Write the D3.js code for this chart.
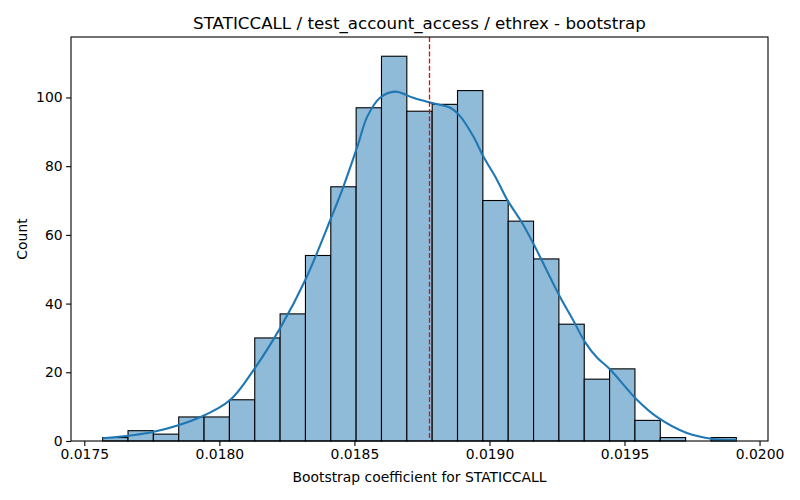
<!DOCTYPE html>
<html>
<head>
<meta charset="utf-8">
<script src="https://cdn.jsdelivr.net/npm/d3@7"></script>
<style>
  body { margin: 0; background: #fff; }
  text { font-family: "DejaVu Sans", sans-serif; fill: #000; }
</style>
</head>
<body>
<div id="chart"></div>
<script>
// Histogram counts, left to right (25 bins)
var counts = [1, 3, 2, 7, 7, 12, 30, 37, 54, 74, 97, 112, 96, 98, 102, 70, 64, 53, 34, 18, 21, 6, 1, 0, 1];
// Range covered by the bins
var binRange = [0.017568, 0.019914];
// KDE curve (x value, count scale)
var kdeX = [0.017568, 0.017757, 0.017931, 0.018041, 0.018127, 0.018226, 0.018319, 0.018411, 0.018459,
            0.018511, 0.018548, 0.018596, 0.018651, 0.018718, 0.018781, 0.018855, 0.018892, 0.018940,
            0.018977, 0.019028, 0.019065, 0.019120, 0.019161, 0.019198, 0.019261, 0.019309, 0.019354,
            0.019398, 0.019446, 0.019546, 0.019620, 0.019731, 0.019827, 0.019915];
var kdeY = [0.8, 2.7, 7, 12, 20.7, 33, 47, 64.4, 74,
            85.7, 94.5, 100, 101.7, 99.9, 98.5, 97, 94.5, 88.7,
            82.9, 76, 70.3, 63.6, 57.7, 51.9, 42, 35.3, 28.8,
            24.3, 20.9, 12, 7, 2.3, 0.6, 0.3];
// Mean marker
var meanValue = 0.018778;
var xTicks = [0.0175, 0.0180, 0.0185, 0.0190, 0.0195, 0.0200];
var yTicks = [0, 20, 40, 60, 80, 100];
var title = "STATICCALL / test_account_access / ethrex - bootstrap";
var xLabel = "Bootstrap coefficient for STATICCALL";
var yLabel = "Count";

function init() {
    var w = 800, h = 500;
    var left = 71, right = 768, top = 37, bottom = 441;

    var svg = d3.select("#chart").append("svg")
        .attr("width", w).attr("height", h);

    // Matplotlib style 5% margins
    var span = binRange[1] - binRange[0];
    var xScale = d3.scaleLinear()
        .domain([binRange[0] - span * 0.05, binRange[1] + span * 0.05])
        .range([left, right]);
    var yScale = d3.scaleLinear()
        .domain([0, d3.max(counts) * 1.05])
        .range([bottom, top]);

    var bw = span / counts.length;
    var bins = counts.map(function(c, i) {
        return { x0: binRange[0] + i * bw, x1: binRange[0] + (i + 1) * bw, n: c };
    });

    // Bars
    svg.append("g").selectAll("rect")
        .data(bins.filter(function(d) { return d.n > 0; }))
        .enter().append("rect")
        .attr("x", function(d) { return xScale(d.x0); })
        .attr("y", function(d) { return yScale(d.n); })
        .attr("width", function(d) { return xScale(d.x1) - xScale(d.x0); })
        .attr("height", function(d) { return yScale(0) - yScale(d.n); })
        .attr("fill", "#8fbbd9")
        .attr("stroke", "#000")
        .attr("stroke-width", 1.1);

    // KDE line
    var kde = kdeX.map(function(x, i) { return [x, kdeY[i]]; });
    var line = d3.line()
        .x(function(d) { return xScale(d[0]); })
        .y(function(d) { return yScale(d[1]); })
        .curve(d3.curveCatmullRom.alpha(0.5));
    svg.append("path")
        .datum(kde)
        .attr("d", line)
        .attr("fill", "none")
        .attr("stroke", "#1f77b4")
        .attr("stroke-width", 2.1);

    // Mean line
    svg.append("line")
        .attr("x1", xScale(meanValue)).attr("x2", xScale(meanValue))
        .attr("y1", top).attr("y2", bottom)
        .attr("stroke", "#ff0000")
        .attr("stroke-width", 1.3)
        .attr("stroke-dasharray", "5,2.2");

    // Axes
    var xAxis = d3.axisBottom(xScale)
        .tickValues(xTicks)
        .tickFormat(d3.format(".4f"))
        .tickSize(4.9).tickPadding(3.5);
    var yAxis = d3.axisLeft(yScale)
        .tickValues(yTicks)
        .tickSize(4.9).tickPadding(3.5);

    var gx = svg.append("g")
        .attr("transform", "translate(0," + bottom + ")")
        .call(xAxis);
    var gy = svg.append("g")
        .attr("transform", "translate(" + left + ",0)")
        .call(yAxis);
    [gx, gy].forEach(function(g) {
        g.select(".domain").remove();
        g.selectAll("line").attr("stroke", "#000").attr("stroke-width", 1.1);
        g.selectAll("text").attr("font-size", "13.9px")
            .attr("font-family", "DejaVu Sans, sans-serif").attr("fill", "#000");
    });

    // Frame
    svg.append("rect")
        .attr("x", left).attr("y", top)
        .attr("width", right - left).attr("height", bottom - top)
        .attr("fill", "none").attr("stroke", "#000").attr("stroke-width", 1.1);

    // Labels
    svg.append("text")
        .attr("x", (left + right) / 2).attr("y", 29)
        .attr("text-anchor", "middle").attr("font-size", "16.7px")
        .text(title);
    svg.append("text")
        .attr("x", (left + right) / 2).attr("y", 482)
        .attr("text-anchor", "middle").attr("font-size", "13.9px")
        .text(xLabel);
    svg.append("text")
        .attr("transform", "translate(27," + ((top + bottom) / 2) + ") rotate(-90)")
        .attr("text-anchor", "middle").attr("font-size", "13.9px")
        .text(yLabel);
}

window.onload = init;
</script>
</body>
</html>
